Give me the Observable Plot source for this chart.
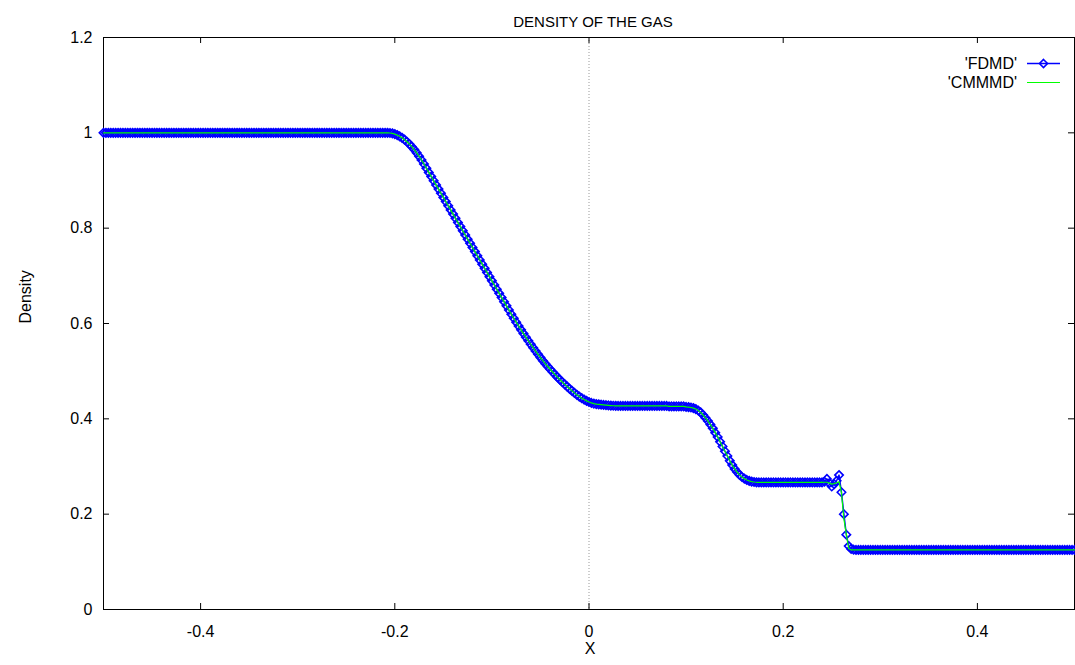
<!DOCTYPE html>
<html><head><meta charset="utf-8">
<script src="https://cdn.jsdelivr.net/npm/d3@7"></script>
<script src="https://cdn.jsdelivr.net/npm/@observablehq/plot@0.6"></script>
<style>
body{margin:0;background:#fff}
#chart{width:1075px;height:665px}
</style>
</head><body><div id="chart"></div>
<script>
const title = "DENSITY OF THE GAS";
const xLabel = "X";
const yLabel = "Density";
const seriesNames = ["'FDMD'", "'CMMMD'"];
const seriesColors = ["#0000ff", "#00ff00"];
const xStart = -0.5, xStep = 0.0025;
const xTicks = [-0.4, -0.2, 0, 0.2, 0.4];
const yTicks = [0, 0.2, 0.4, 0.6, 0.8, 1, 1.2];

const fdmd = [
1,1,1,1,1,1,1,1,1,1, 1,1,1,1,1,1,1,1,1,1, 1,1,1,1,1,1,1,1,1,1, 1,1,1,1,1,1,1,1,1,1,
1,1,1,1,1,1,1,1,1,1, 1,1,1,1,1,1,1,1,1,1, 1,1,1,1,1,1,1,1,1,1, 1,1,1,1,1,1,1,1,1,1,
1,1,1,1,1,1,1,1,1,1, 1,1,1,1,1,1,1,1,1,1, 1,1,1,1,1,1,1,1,1,1, 1,1,1,1,1,1,1,1,
0.9997,0.9988,0.9973,0.9953,0.9927,0.9895,0.9857,0.9813,0.9764,0.9709,
0.9648,0.9581,0.9508,0.9430,0.9346,0.9258,0.9170,0.9083,0.8995,0.8908,
0.8820,0.8733,0.8645,0.8558,0.8470,0.8383,0.8295,0.8208,0.8120,0.8033,
0.7945,0.7858,0.7770,0.7683,0.7595,0.7508,0.7420,0.7333,0.7245,0.7158,
0.7070,0.6983,0.6895,0.6808,0.6720,0.6633,0.6545,0.6458,0.6370,0.6283,
0.6195,0.6111,0.6028,0.5947,0.5867,0.5789,0.5713,0.5638,0.5564,0.5492,
0.5422,0.5353,0.5286,0.5220,0.5158,0.5098,0.5040,0.4983,0.4928,0.4874,
0.4822,0.4772,0.4723,0.4676,0.4630,0.4586,0.4544,0.4503,0.4467,0.4434,
0.4404,0.4377,0.4353,0.4334,0.4320,0.4310,0.4303,0.4297,0.4292,0.4286,
0.4281,0.4277,0.4274,0.4272,0.4270,
0.427,0.427,0.427,0.427,0.427,0.427,0.427,0.427,0.427,0.427,
0.427,0.427,0.427,0.427,0.427,0.427,0.427,0.427,0.427,0.427,
0.426,0.426,0.426,0.426,0.426,0.426,0.426,
0.4250,0.4245,0.4238,0.4225,0.4205,0.4175,0.4135,0.4080,0.4020,0.3955,
0.3880,0.3800,0.3710,0.3620,0.3520,0.3420,0.3320,0.3220,0.3120,0.3030,
0.2950,0.2882,0.2825,0.2780,0.2745,0.2718,0.2698,0.2684,0.2675,0.2669,
0.2665,
0.2665,0.2665,0.2665,0.2665,0.2665,0.2665,0.2665,0.2665,0.2665,0.2665,
0.2665,0.2665,0.2665,0.2665,0.2665,0.2665,0.2665,0.2665,0.2665,0.2665,
0.2665,0.2665,0.2665,0.2665,0.2665,0.2665,
0.268,0.274,0.265,0.258,0.263,0.270,0.282,0.246,0.200,0.157,
0.133,0.127,0.1255,
0.125,0.125,0.125,0.125,0.125,0.125,0.125,0.125,0.125,0.125,
0.125,0.125,0.125,0.125,0.125,0.125,0.125,0.125,0.125,0.125,
0.125,0.125,0.125,0.125,0.125,0.125,0.125,0.125,0.125,0.125,
0.125,0.125,0.125,0.125,0.125,0.125,0.125,0.125,0.125,0.125,
0.125,0.125,0.125,0.125,0.125,0.125,0.125,0.125,0.125,0.125,
0.125,0.125,0.125,0.125,0.125,0.125,0.125,0.125,0.125,0.125,
0.125,0.125,0.125,0.125,0.125,0.125,0.125,0.125,0.125,0.125,
0.125,0.125,0.125,0.125,0.125,0.125,0.125,0.125,0.125,0.125,
0.125,0.125,0.125,0.125,0.125,0.125,0.125,0.125,0.125,0.125,
0.125
];

const cmmmd = [
1,1,1,1,1,1,1,1,1,1, 1,1,1,1,1,1,1,1,1,1, 1,1,1,1,1,1,1,1,1,1, 1,1,1,1,1,1,1,1,1,1,
1,1,1,1,1,1,1,1,1,1, 1,1,1,1,1,1,1,1,1,1, 1,1,1,1,1,1,1,1,1,1, 1,1,1,1,1,1,1,1,1,1,
1,1,1,1,1,1,1,1,1,1, 1,1,1,1,1,1,1,1,1,1, 1,1,1,1,1,1,1,1,1,1, 1,1,1,1,1,1,1,1,
0.9997,0.9988,0.9973,0.9953,0.9927,0.9895,0.9857,0.9813,0.9764,0.9709,
0.9648,0.9581,0.9508,0.9430,0.9346,0.9258,0.9170,0.9083,0.8995,0.8908,
0.8820,0.8733,0.8645,0.8558,0.8470,0.8383,0.8295,0.8208,0.8120,0.8033,
0.7945,0.7858,0.7770,0.7683,0.7595,0.7508,0.7420,0.7333,0.7245,0.7158,
0.7070,0.6983,0.6895,0.6808,0.6720,0.6633,0.6545,0.6458,0.6370,0.6283,
0.6195,0.6111,0.6028,0.5947,0.5867,0.5789,0.5713,0.5638,0.5564,0.5492,
0.5422,0.5353,0.5286,0.5220,0.5158,0.5098,0.5040,0.4983,0.4928,0.4874,
0.4822,0.4772,0.4723,0.4676,0.4630,0.4586,0.4544,0.4503,0.4467,0.4434,
0.4404,0.4377,0.4353,0.4334,0.4320,0.4310,0.4303,0.4297,0.4292,0.4286,
0.4281,0.4277,0.4274,0.4272,0.4270,
0.427,0.427,0.427,0.427,0.427,0.427,0.427,0.427,0.427,0.427,
0.427,0.427,0.427,0.427,0.427,0.427,0.427,0.427,0.427,0.427,
0.426,0.426,0.426,0.426,0.426,0.426,0.426,
0.4250,0.4245,0.4238,0.4225,0.4205,0.4175,0.4135,0.4080,0.4020,0.3955,
0.3880,0.3800,0.3710,0.3620,0.3520,0.3420,0.3320,0.3220,0.3120,0.3030,
0.2950,0.2882,0.2825,0.2780,0.2745,0.2718,0.2698,0.2684,0.2675,0.2669,
0.2665,
0.2665,0.2665,0.2665,0.2665,0.2665,0.2665,0.2665,0.2665,0.2665,0.2665,
0.2665,0.2665,0.2665,0.2665,0.2665,0.2665,0.2665,0.2665,0.2665,0.2665,
0.2665,0.2665,0.2665,0.2665,0.2665,0.2665,
0.267,0.267,0.265,0.263,0.264,0.266,0.268,0.245,0.190,0.158,
0.128,0.125,0.125,
0.125,0.125,0.125,0.125,0.125,0.125,0.125,0.125,0.125,0.125,
0.125,0.125,0.125,0.125,0.125,0.125,0.125,0.125,0.125,0.125,
0.125,0.125,0.125,0.125,0.125,0.125,0.125,0.125,0.125,0.125,
0.125,0.125,0.125,0.125,0.125,0.125,0.125,0.125,0.125,0.125,
0.125,0.125,0.125,0.125,0.125,0.125,0.125,0.125,0.125,0.125,
0.125,0.125,0.125,0.125,0.125,0.125,0.125,0.125,0.125,0.125,
0.125,0.125,0.125,0.125,0.125,0.125,0.125,0.125,0.125,0.125,
0.125,0.125,0.125,0.125,0.125,0.125,0.125,0.125,0.125,0.125,
0.125,0.125,0.125,0.125,0.125,0.125,0.125,0.125,0.125,0.125,
0.125
];

const toRows = arr => arr.map((y, i) => ({x: +(xStart + i * xStep).toFixed(4), y}));
const fdRows = toRows(fdmd);
const cmRows = toRows(cmmmd);

const W = 1075, H = 665;
const mL = 103, mR = 1, mT = 37, mB = 56;
const innerW = W - mL - mR, innerH = H - mT - mB;
const tick = 6;
const font = "'Liberation Sans', Arial, Helvetica, sans-serif";

const chart = Plot.plot({
  width: W, height: H,
  marginLeft: mL, marginRight: mR, marginTop: mT, marginBottom: mB,
  style: {fontFamily: font, fontSize: "16px", color: "black", background: "white"},
  x: {domain: [-0.5, 0.5]},
  y: {domain: [0, 1.2]},
  marks: [
    Plot.ruleX([0], {stroke: "#999", strokeDasharray: "1,2"}),
    Plot.ruleX(xTicks, {stroke: "black", insetTop: innerH - tick}),
    Plot.ruleX(xTicks, {stroke: "black", insetBottom: innerH - tick}),
    Plot.ruleY(yTicks, {stroke: "black", insetRight: innerW - tick}),
    Plot.ruleY(yTicks, {stroke: "black", insetLeft: innerW - tick}),
    Plot.frame({stroke: "black", strokeWidth: 1}),
    Plot.axisX(xTicks, {tickSize: 0, tickPadding: 16, tickFormat: d => String(d), label: null, fill: "black"}),
    Plot.axisY(yTicks, {tickSize: 0, tickPadding: 11, tickFormat: d => String(d), label: null, fill: "black"}),
    Plot.line(fdRows, {x: "x", y: "y", stroke: seriesColors[0], strokeWidth: 1.5}),
    Plot.dot(fdRows, {x: "x", y: "y", symbol: "diamond2", r: 3.8, stroke: seriesColors[0], strokeWidth: 1.6, fill: "none"}),
    Plot.line(cmRows, {x: "x", y: "y", stroke: seriesColors[1], strokeWidth: 1.2}),
    Plot.text([title], {frameAnchor: "top", dx: 4, dy: -21, fill: "black", fontSize: 15}),
    Plot.text([xLabel], {frameAnchor: "bottom", dx: 1, dy: 44, fill: "black"}),
    Plot.text([yLabel], {frameAnchor: "left", dx: -78, dy: 0, rotate: -90, fill: "black"})
  ]
});

document.getElementById("chart").appendChild(chart);

// legend (gnuplot style, inside top-right)
const svg = d3.select(chart);
const lg = svg.append("g").attr("font-family", font).attr("font-size", 16);
const rows = [
  {name: seriesNames[0], color: seriesColors[0], y: 63, marker: true},
  {name: seriesNames[1], color: seriesColors[1], y: 82, marker: false}
];
rows.forEach(r => {
  lg.append("text").attr("x", 1017).attr("y", r.y).attr("dy", "0.35em")
    .attr("text-anchor", "end").attr("fill", "black").text(r.name);
  lg.append("line").attr("x1", 1027).attr("x2", 1060).attr("y1", r.y + 0.5).attr("y2", r.y + 0.5)
    .attr("stroke", r.color).attr("stroke-width", r.marker ? 1.5 : 1.2);
  if (r.marker) {
    const cx = 1043.5, cy = r.y + 0.5, s = 4;
    lg.append("path").attr("d", `M${cx},${cy - s}L${cx + s},${cy}L${cx},${cy + s}L${cx - s},${cy}Z`)
      .attr("fill", "none").attr("stroke", r.color).attr("stroke-width", 1.6);
  }
});
</script>
</body></html>
